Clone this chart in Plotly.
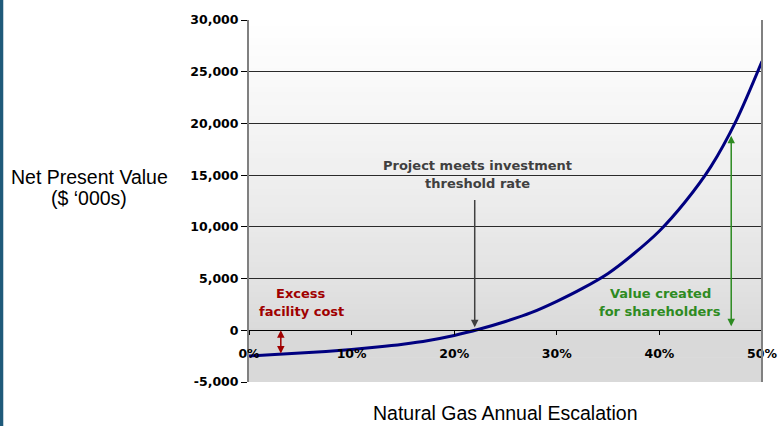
import plotly.graph_objects as go

# ---- data ----
escalation = [0, 2.5, 5, 7.5, 10, 12.5, 15, 17.5, 20, 22.5, 25, 27.5, 30,
              32.5, 35, 37.5, 40, 42.5, 45, 47.5, 50]
npv = [-2480, -2350, -2200, -2040, -1850, -1620, -1340, -980, -500, 120, 850,
       1700, 2800, 4050, 5500, 7400, 9600, 12400, 15800, 20300, 26000]

y_ticks = [-5000, 0, 5000, 10000, 15000, 20000, 25000, 30000]
y_tick_labels = ["-5,000", "0", "5,000", "10,000", "15,000", "20,000", "25,000", "30,000"]
x_ticks = [0, 10, 20, 30, 40, 50]
x_tick_labels = ["0%", "10%", "20%", "30%", "40%", "50%"]

threshold_x = 22
threshold_top = 12750
threshold_text = ["Project meets investment", "threshold rate"]
excess_x = 3.1
excess_low = -2380
excess_text = ["Excess", "facility cost"]
value_x = 47
value_low = 250
value_top = 18800
value_text = ["Value created", "for shareholders"]

ANNFONT = "DejaVu Sans"
TITLEFONT = "Liberation Sans"

fig = go.Figure()
fig.add_trace(go.Scatter(x=escalation, y=npv, mode="lines",
                         line=dict(color="#000080", width=3, shape="spline", smoothing=0.8),
                         hoverinfo="skip", showlegend=False))

# gradient background bands
shapes = []
n = 60
top_c = (255, 255, 255)
bot_c = (217, 217, 217)
g_end = 0.14
for i in range(n):
    y0 = i / n
    y1 = (i + 1) / n
    ym = (y0 + y1) / 2
    t = max(0.0, min(1.0, (ym - g_end) / (1 - g_end)))
    t = t ** 0.8
    c = tuple(int(round(bot_c[k] + (top_c[k] - bot_c[k]) * t)) for k in range(3))
    shapes.append(dict(type="rect", xref="x domain", yref="y domain",
                       x0=0, x1=1, y0=y0, y1=y1 + 0.002, layer="below",
                       line=dict(width=0), fillcolor="rgb(%d,%d,%d)" % c))
# right border of plot area
shapes.append(dict(type="line", xref="x domain", yref="y domain", x0=1, x1=1,
                   y0=0, y1=1, line=dict(color="#808080", width=2), layer="above"))
# slide left edge bar
shapes.append(dict(type="rect", xref="paper", yref="paper", x0=-0.4854, x1=-0.479,
                   y0=-0.2, y1=1.1, line=dict(width=0), fillcolor="#1f5a7a"))

anns = []
# threshold arrow (single head)
anns.append(dict(x=threshold_x, y=0, ax=threshold_x, ay=threshold_top, xref="x", yref="y",
                 axref="x", ayref="y", text="", showarrow=True, arrowhead=2,
                 arrowsize=1, arrowwidth=1.5, arrowcolor="#404040", standoff=3))
# excess double arrow
anns.append(dict(x=excess_x, y=0, ax=excess_x, ay=excess_low, xref="x", yref="y",
                 axref="x", ayref="y", text="", showarrow=True, arrowhead=2,
                 startarrowhead=2, arrowside="end+start", arrowsize=1,
                 startarrowsize=1, arrowwidth=1.5, arrowcolor="#a00000"))
# value double arrow
anns.append(dict(x=value_x, y=value_top, ax=value_x, ay=value_low, xref="x", yref="y",
                 axref="x", ayref="y", text="", showarrow=True, arrowhead=2,
                 startarrowhead=2, arrowside="end+start", arrowsize=1,
                 startarrowsize=1, arrowwidth=1.5, arrowcolor="#2e8b22"))

def text_lines(lines, x, y_px_first, color, size=13):
    out = []
    for k, s in enumerate(lines):
        ypx = y_px_first + 18 * k
        val = (331 - ypx) / 51.7 * 5000
        out.append(dict(x=x, y=val, xref="x", yref="y", text="<b>%s</b>" % s,
                        showarrow=False, xanchor="center", yanchor="middle",
                        font=dict(family=ANNFONT, size=size, color=color)))
    return out

anns += text_lines(threshold_text, 22.3, 166, "#404040")
anns += text_lines(excess_text, 5.1, 294, "#a00000")
anns += text_lines(value_text, 40.1, 294, "#2e8b22")

# axis titles
anns.append(dict(x=(89 - 249) / 513, y=(382 - 177) / 362, xref="paper", yref="paper",
                 text="Net Present Value", showarrow=False, xanchor="center",
                 yanchor="middle", font=dict(family=TITLEFONT, size=19.5, color="#000")))
anns.append(dict(x=(89 - 249) / 513, y=(382 - 198) / 362, xref="paper", yref="paper",
                 text="($ \u2018000s)", showarrow=False, xanchor="center",
                 yanchor="middle", font=dict(family=TITLEFONT, size=19.5, color="#000")))
anns.append(dict(x=(505 - 249) / 513, y=-(413 - 382) / 362, xref="paper", yref="paper",
                 text="Natural Gas Annual Escalation", showarrow=False, xanchor="center",
                 yanchor="middle", font=dict(family=TITLEFONT, size=19.5, color="#000")))

fig.update_layout(
    width=778, height=426,
    margin=dict(l=249, r=16, t=20, b=44, autoexpand=False),
    paper_bgcolor="#ffffff", plot_bgcolor="rgba(0,0,0,0)",
    shapes=shapes, annotations=anns, showlegend=False,
    xaxis=dict(range=[0, 50], tickvals=x_ticks, ticktext=x_tick_labels,
               anchor="free", position=5000 / 35000, showgrid=False, zeroline=False,
               showline=True, linecolor="#000000", linewidth=1, automargin=False,
               ticks="outside", ticklen=4, tickcolor="#000000",
               ticklabelstandoff=8,
               tickfont=dict(family="DejaVu Sans", size=12.5, color="#000", weight="bold")),
    yaxis=dict(range=[-5000, 30000], tickvals=y_ticks, ticktext=y_tick_labels,
               showgrid=True, gridcolor="#2a2a2a", gridwidth=1, zeroline=False,
               showline=True, linecolor="#808080", linewidth=2, automargin=False,
               ticks="outside", ticklen=6, tickcolor="#000000",
               tickfont=dict(family="DejaVu Sans", size=12.5, color="#000", weight="bold")),
)

fig.write_html("out.html", config={"displayModeBar": False},
               post_script="document.body.style.margin='0';document.body.style.overflow='hidden';")
